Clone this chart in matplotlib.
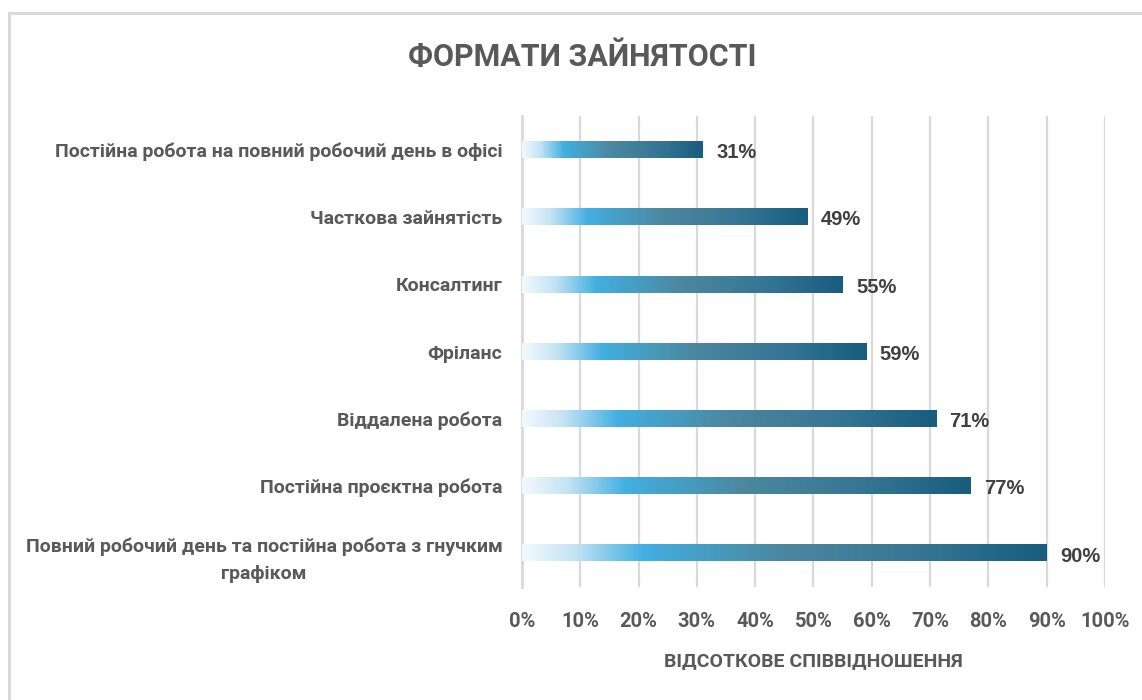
import matplotlib
matplotlib.use("Agg")
import matplotlib.pyplot as plt
import numpy as np
from matplotlib.colors import LinearSegmentedColormap
from matplotlib.patches import Rectangle

categories = [
    "Повний робочий день та постійна робота з гнучким\nграфіком",
    "Постійна проєктна робота",
    "Віддалена робота",
    "Фріланс",
    "Консалтинг",
    "Часткова зайнятість",
    "Постійна робота на повний робочий день в офісі",
]
values = [90, 77, 71, 59, 55, 49, 31]
ticks = [0, 10, 20, 30, 40, 50, 60, 70, 80, 90, 100]
tick_labels = [f"{t}%" for t in ticks]

title = "ФОРМАТИ ЗАЙНЯТОСТІ"
xlabel = "ВІДСОТКОВЕ СПІВВІДНОШЕННЯ"

FONT = ["Roboto", "DejaVu Sans"]
GRAY = "#595959"

grad = LinearSegmentedColormap.from_list(
    "bar_grad",
    [(0.0, "#f3f9fd"), (0.1, "#c4e3f4"), (0.23, "#42afe1"),
     (0.5, "#4c879f"), (0.78, "#347493"), (1.0, "#185c7e")],
)

fig = plt.figure(figsize=(11.42, 7), dpi=100)
ax = fig.add_axes([0.457, 0.1614, 0.5106, 0.6723])

# frame around the whole chart area
fig.patches.append(Rectangle((9 / 1142, -0.1), 1.2, (700 - 13) / 700 + 0.1,
                             transform=fig.transFigure, fill=False,
                             edgecolor="#d9d9d9", linewidth=2.2))

ypos = np.arange(len(categories))
bar_h = 0.24
strip = np.linspace(0, 1, 256).reshape(1, -1)
for y, v in zip(ypos, values):
    ax.imshow(strip, cmap=grad, aspect="auto", interpolation="bilinear",
              extent=[0, v, y - bar_h / 2, y + bar_h / 2], zorder=3)
    ax.text(v + 2.3, y - 0.04, f"{v}%", va="center", ha="left", fontsize=14.5,
            fontweight="bold", color="#404040",
            family=["Liberation Sans", "DejaVu Sans"], zorder=4)

ax.set_xlim(0, 100)
ax.set_ylim(-0.5, len(categories) - 0.5)
ax.set_xticks(ticks)
ax.set_xticklabels(tick_labels)
ax.set_yticks(ypos)
ax.set_yticklabels(categories, multialignment="center", linespacing=1.65)

for lbl in ax.get_xticklabels() + ax.get_yticklabels():
    lbl.set_family(FONT)
    lbl.set_fontweight("bold")
    lbl.set_color(GRAY)
for lbl in ax.get_xticklabels():
    lbl.set_fontsize(14.5)
for lbl in ax.get_yticklabels():
    lbl.set_fontsize(14.0)

ax.tick_params(axis="x", length=0, pad=18)
ax.tick_params(axis="y", length=0, pad=14)
ax.grid(axis="x", color="#d9d9d9", linewidth=1.6, zorder=0)
ax.set_axisbelow(True)
for s in ["top", "right", "bottom"]:
    ax.spines[s].set_visible(False)
ax.spines["left"].set_color("#d9d9d9")
ax.spines["left"].set_linewidth(2.0)

ax.set_xlabel(xlabel, fontsize=14, fontweight="bold", color=GRAY,
              family=FONT, labelpad=15)
fig.text(0.51, 0.918, title, ha="center", va="center", fontsize=22,
         fontweight="bold", color=GRAY, family=FONT)

fig.savefig("out.png", dpi=100)
